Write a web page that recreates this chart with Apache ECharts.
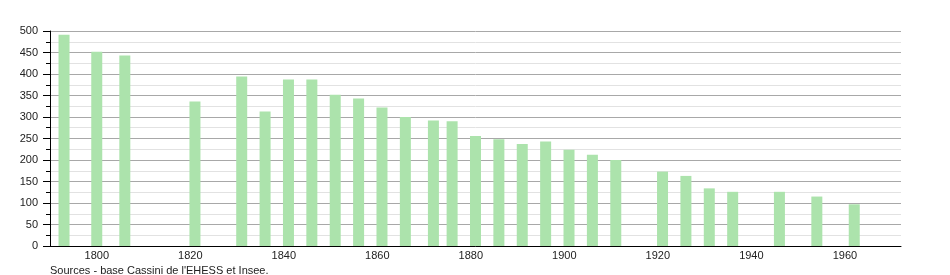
<!DOCTYPE html>
<html>
<head>
<meta charset="utf-8">
<script src="https://cdn.jsdelivr.net/npm/echarts@6/dist/echarts.min.js"></script>
<style>
html,body{margin:0;padding:0;background:#fff;}
#chart{width:950px;height:275px;}
</style>
</head>
<body>
<div id="chart"></div>
<script>
const years = [1793,1800,1806,1821,1831,1836,1841,1846,1851,1856,1861,1866,1872,1876,1881,1886,1891,1896,1901,1906,1911,1921,1926,1931,1936,1946,1954,1962];
const population = [491,452,443,336,394,313,387,387,352,343,322,300,292,290,256,248,237,243,224,212,200,173,163,134,126,126,115,97];
const xTickLabels = [1800,1820,1840,1860,1880,1900,1920,1940,1960];
const sourceText = "Sources - base Cassini de l'EHESS et Insee.";

const chart = echarts.init(document.getElementById('chart'), null, {renderer:'canvas'});
const fontFamily = '"Liberation Sans", Arial, sans-serif';
chart.setOption({
  animation: false,
  backgroundColor: '#fff',
  grid: {left: 50, right: 49, top: 31, bottom: 29, containLabel: false},
  xAxis: {
    type: 'value',
    min: 1790,
    max: 1972,
    splitLine: {show: false},
    axisLine: {lineStyle: {color: '#000', width: 1}},
    axisTick: {show: false},
    axisLabel: {
      customValues: xTickLabels,
      color: '#222',
      fontSize: 11,
      fontFamily: fontFamily,
      margin: 4,
      formatter: v => String(v)
    }
  },
  yAxis: {
    type: 'value',
    min: 0,
    max: 500,
    interval: 50,
    axisLine: {show: true, lineStyle: {color: '#000', width: 1}},
    axisTick: {show: true, length: 7, lineStyle: {color: '#000'}},
    minorTick: {show: true, splitNumber: 2, length: 4, lineStyle: {color: '#000'}},
    splitLine: {show: true, lineStyle: {color: '#a8a8a8', width: 1}},
    minorSplitLine: {show: true, lineStyle: {color: '#e2e2e2', width: 1}},
    axisLabel: {color: '#222', fontSize: 11, fontFamily: fontFamily, margin: 12}
  },
  series: [{
    type: 'bar',
    data: years.map((y, i) => [y, population[i]]),
    barWidth: 11,
    itemStyle: {color: '#ace3ac'},
    z: 3
  }],
  graphic: [{
    type: 'text',
    left: 50,
    top: 265,
    style: {text: sourceText, fill: '#222', font: '11px ' + fontFamily}
  }]
});
</script>
</body>
</html>
